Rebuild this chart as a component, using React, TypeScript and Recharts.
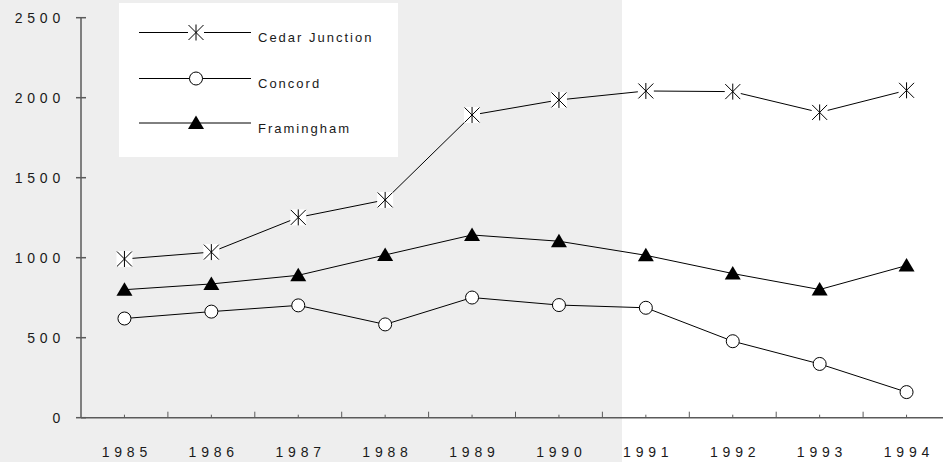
import React from "react";
import { LineChart, Line, XAxis, YAxis } from "recharts";

const years = ["1985", "1986", "1987", "1988", "1989", "1990", "1991", "1992", "1993", "1994"];
const cedarJunction = [992, 1035, 1252, 1361, 1892, 1986, 2042, 2038, 1908, 2046];
const concord = [620, 663, 702, 583, 751, 704, 687, 478, 336, 160];
const framingham = [800, 836, 890, 1017, 1142, 1103, 1015, 901, 801, 951];
const yTicks = [0, 500, 1000, 1500, 2000, 2500];

const seriesNames = ["Cedar Junction", "Concord", "Framingham"];

const data = years.map((year, i) => ({
  year,
  cedar: cedarJunction[i],
  concord: concord[i],
  framingham: framingham[i],
}));

const FONT = "'Liberation Sans', Arial, Helvetica, sans-serif";
const AXIS_COLOR = "#5a5a5a";
const TEXT_COLOR = "#1a1a1a";
const CHART_W = 950;
const CHART_H = 462;
const PLOT_LEFT = 81;
const STEP = (CHART_W - PLOT_LEFT) / years.length;

const StarMark = ({ cx, cy }: { cx: number; cy: number }) => (
  <g>
    <rect x={cx - 8} y={cy - 8} width={16} height={16} fill="#fff" />
    <line x1={cx} y1={cy - 8} x2={cx} y2={cy + 8} stroke="#000" strokeWidth={1} />
    <line x1={cx - 7.5} y1={cy - 7.5} x2={cx + 7.5} y2={cy + 7.5} stroke="#000" strokeWidth={1} />
    <line x1={cx - 7.5} y1={cy + 7.5} x2={cx + 7.5} y2={cy - 7.5} stroke="#000" strokeWidth={1} />
  </g>
);

const CircleMark = ({ cx, cy }: { cx: number; cy: number }) => (
  <circle cx={cx} cy={cy} r={6.5} fill="#fff" stroke="#000" strokeWidth={1} />
);

const TriangleMark = ({ cx, cy }: { cx: number; cy: number }) => (
  <polygon
    points={`${cx},${cy - 7.5} ${cx - 8},${cy + 6} ${cx + 8},${cy + 6}`}
    fill="#000"
  />
);

const marks = [StarMark, CircleMark, TriangleMark];

const dotFor = (Mark: any) => (props: any) => {
  const { cx, cy, index } = props;
  if (cx == null || cy == null) return <g key={index} />;
  return <Mark key={index} cx={cx} cy={cy} />;
};

const YTick = (props: any) => {
  const { x, y, payload } = props;
  return (
    <g>
      <line x1={x - 5} y1={y} x2={x + 5} y2={y} stroke={AXIS_COLOR} strokeWidth={1.5} />
      <text
        x={x - 16}
        y={y + 5}
        textAnchor="end"
        fill={TEXT_COLOR}
        style={{ fontFamily: FONT, fontSize: 14, letterSpacing: 4.8 }}
      >
        {payload.value}
      </text>
    </g>
  );
};

const XTick = (props: any) => {
  const { x, y, payload } = props;
  return (
    <g>
      <line x1={x} y1={y} x2={x} y2={y - 3} stroke={AXIS_COLOR} strokeWidth={1} />
      <line x1={x + STEP / 2} y1={y} x2={x + STEP / 2} y2={y - 6} stroke={AXIS_COLOR} strokeWidth={1} />
      <text
        x={x + 2.4}
        y={y + 39}
        textAnchor="middle"
        fill={TEXT_COLOR}
        style={{ fontFamily: FONT, fontSize: 14, letterSpacing: 4.8 }}
      >
        {payload.value}
      </text>
    </g>
  );
};

const LegendBox = () => {
  const rows = [32.5, 78.5, 123];
  return (
    <svg width={279} height={154} style={{ display: "block" }}>
      <rect x={0} y={0} width={279} height={154} fill="#fff" />
      {seriesNames.map((name, i) => {
        const Mark = marks[i];
        const ry = rows[i] - 3;
        return (
          <g key={name}>
            <line x1={20} y1={ry} x2={132} y2={ry} stroke="#000" strokeWidth={1} />
            <Mark cx={77} cy={ry} />
            <text
              x={139}
              y={ry + 9.5}
              fill={TEXT_COLOR}
              style={{ fontFamily: FONT, fontSize: 13, letterSpacing: 2 }}
            >
              {name}
            </text>
          </g>
        );
      })}
    </svg>
  );
};

export default function App() {
  return (
    <div
      style={{
        position: "absolute",
        left: 0,
        top: 0,
        width: 943,
        height: 462,
        overflow: "hidden",
        background: "linear-gradient(to right, #eeeeee 0px, #eeeeee 622px, #ffffff 622px)",
      }}
    >
      <LineChart
        width={CHART_W}
        height={CHART_H}
        data={data}
        margin={{ top: 17.7, right: 0, bottom: 0, left: 0 }}
      >
        <XAxis
          dataKey="year"
          scale="band"
          height={44.3}
          tickSize={0}
          tickMargin={0}
          interval={0}
          stroke={AXIS_COLOR}
          axisLine={{ stroke: AXIS_COLOR, strokeWidth: 1.5 }}
          tickLine={false}
          tick={<XTick />}
        />
        <YAxis
          width={PLOT_LEFT}
          domain={[0, 2500]}
          ticks={yTicks}
          tickSize={0}
          tickMargin={0}
          interval={0}
          axisLine={{ stroke: AXIS_COLOR, strokeWidth: 1.5 }}
          tickLine={false}
          tick={<YTick />}
        />
        <Line
          dataKey="cedar"
          name={seriesNames[0]}
          stroke="#000"
          strokeWidth={1}
          dot={dotFor(StarMark)}
          activeDot={false}
          isAnimationActive={false}
        />
        <Line
          dataKey="concord"
          name={seriesNames[1]}
          stroke="#000"
          strokeWidth={1}
          dot={dotFor(CircleMark)}
          activeDot={false}
          isAnimationActive={false}
        />
        <Line
          dataKey="framingham"
          name={seriesNames[2]}
          stroke="#000"
          strokeWidth={1}
          dot={dotFor(TriangleMark)}
          activeDot={false}
          isAnimationActive={false}
        />
      </LineChart>
      <div style={{ position: "absolute", left: 119, top: 3 }}>
        <LegendBox />
      </div>
    </div>
  );
}
